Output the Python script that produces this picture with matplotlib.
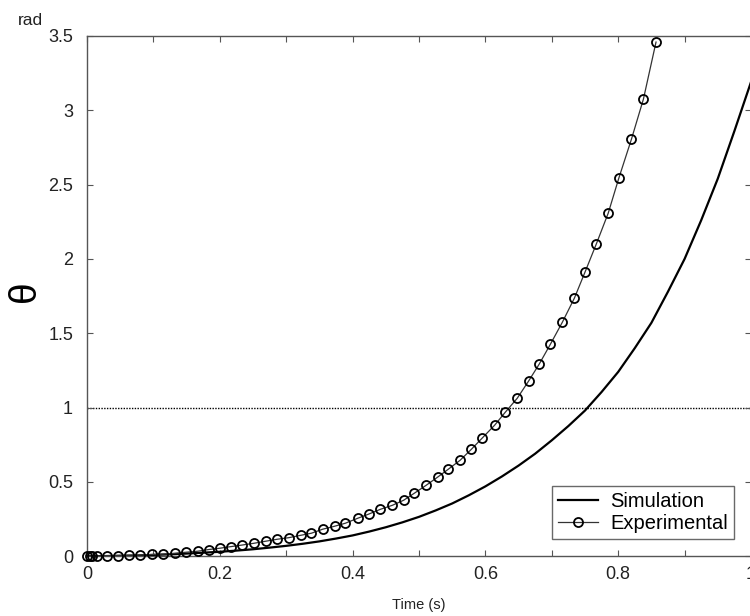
import matplotlib
matplotlib.use("Agg")
import matplotlib.pyplot as plt
from matplotlib.ticker import MultipleLocator, FuncFormatter

# ---- data ----
t_sim = [0.000, 0.025, 0.050, 0.075, 0.100, 0.125, 0.150, 0.175, 0.200, 0.225,
         0.250, 0.275, 0.300, 0.325, 0.350, 0.375, 0.400, 0.425, 0.450, 0.475,
         0.500, 0.525, 0.550, 0.575, 0.600, 0.625, 0.650, 0.675, 0.700, 0.725,
         0.750, 0.775, 0.800, 0.825, 0.850, 0.875, 0.900, 0.925, 0.950, 0.975,
         1.000]
theta_sim = [0.0, 0.001, 0.003, 0.005, 0.009, 0.013, 0.018, 0.024, 0.030, 0.038,
             0.047, 0.058, 0.070, 0.084, 0.100, 0.119, 0.140, 0.166, 0.195, 0.228,
             0.265, 0.308, 0.355, 0.410, 0.470, 0.537, 0.610, 0.690, 0.780, 0.876,
             0.980, 1.105, 1.240, 1.400, 1.570, 1.780, 2.000, 2.260, 2.540, 2.860,
             3.190]

t_exp = [0.000, 0.004, 0.008, 0.015,
         0.030, 0.047, 0.063, 0.080, 0.098, 0.114, 0.132, 0.149, 0.167, 0.183,
         0.200, 0.217, 0.233, 0.251, 0.269, 0.286, 0.304,
         0.322, 0.338, 0.355, 0.373, 0.389, 0.408, 0.424, 0.442, 0.460, 0.477,
         0.493, 0.511, 0.528, 0.544, 0.562, 0.579, 0.595, 0.614,
         0.630, 0.648, 0.665, 0.681, 0.698, 0.716, 0.734, 0.750, 0.767, 0.785,
         0.801, 0.820, 0.838, 0.857]
theta_exp = [0.0, 0.0, 0.001, 0.002,
             0.004, 0.005, 0.007, 0.008, 0.012, 0.014, 0.020, 0.027, 0.034, 0.045,
             0.054, 0.065, 0.075, 0.087, 0.101, 0.114, 0.125,
             0.141, 0.155, 0.182, 0.202, 0.222, 0.256, 0.283, 0.316, 0.343, 0.377,
             0.424, 0.478, 0.532, 0.585, 0.646, 0.720, 0.794, 0.882,
             0.969, 1.063, 1.178, 1.292, 1.427, 1.575, 1.736, 1.911, 2.100, 2.308,
             2.544, 2.806, 3.075, 3.459]

ref_level = 1.0
x_label = "Time (s)"
y_label = "θ"
y_unit = "rad"
labels = ["Simulation", "Experimental"]

plt.rcParams['font.family'] = ['Liberation Sans', 'DejaVu Sans']

fig = plt.figure(figsize=(7.5, 6.16), dpi=100)
ax = fig.add_axes([0.116, 0.097, 0.8853, 0.8446])

spine_col = '#555555'
ax.axhline(ref_level, color='black', linestyle=(0, (1, 1)), linewidth=1.0, zorder=1)
ax.plot(t_sim, theta_sim, color='black', linewidth=1.6, label=labels[0], zorder=3)
ax.plot(t_exp, theta_exp, color='#333333', linewidth=0.9, marker='o', markersize=6.5,
        markerfacecolor='none', markeredgecolor='black', markeredgewidth=1.3,
        label=labels[1], zorder=4, clip_on=False)

ax.set_xlim(0, 1)
ax.set_ylim(0, 3.5)
ax.xaxis.set_major_locator(MultipleLocator(0.2))
ax.xaxis.set_minor_locator(MultipleLocator(0.1))
ax.yaxis.set_major_locator(MultipleLocator(0.5))
fmt = FuncFormatter(lambda v, p: ('%g' % round(v, 3)))
ax.xaxis.set_major_formatter(fmt)
ax.yaxis.set_major_formatter(fmt)

ax.tick_params(which='both', direction='in', top=True, right=True, length=4,
               width=0.8, color=spine_col, labelsize=13, labelcolor='#222222')
ax.tick_params(axis='x', pad=7)
ax.tick_params(axis='y', pad=10)
for s in ax.spines.values():
    s.set_color(spine_col)
    s.set_linewidth(1.0)

ax.set_xlabel(x_label, fontsize=10.5, color='#222222', labelpad=11)
ax.set_ylabel(y_label, fontsize=28, color='black')
ax.yaxis.set_label_coords(-0.066, 0.51)
fig.text(0.024, 0.966, y_unit, fontsize=12.5, color='#222222', ha='left', va='center')

leg = ax.legend(loc='lower right', fontsize=14.5, frameon=True, fancybox=False,
                borderaxespad=0.85, handlelength=2.0, handletextpad=0.6,
                borderpad=0.3, labelspacing=0.15)
leg.get_frame().set_edgecolor('#444444')
leg.get_frame().set_linewidth(1.0)

fig.savefig("out.png", dpi=100)
